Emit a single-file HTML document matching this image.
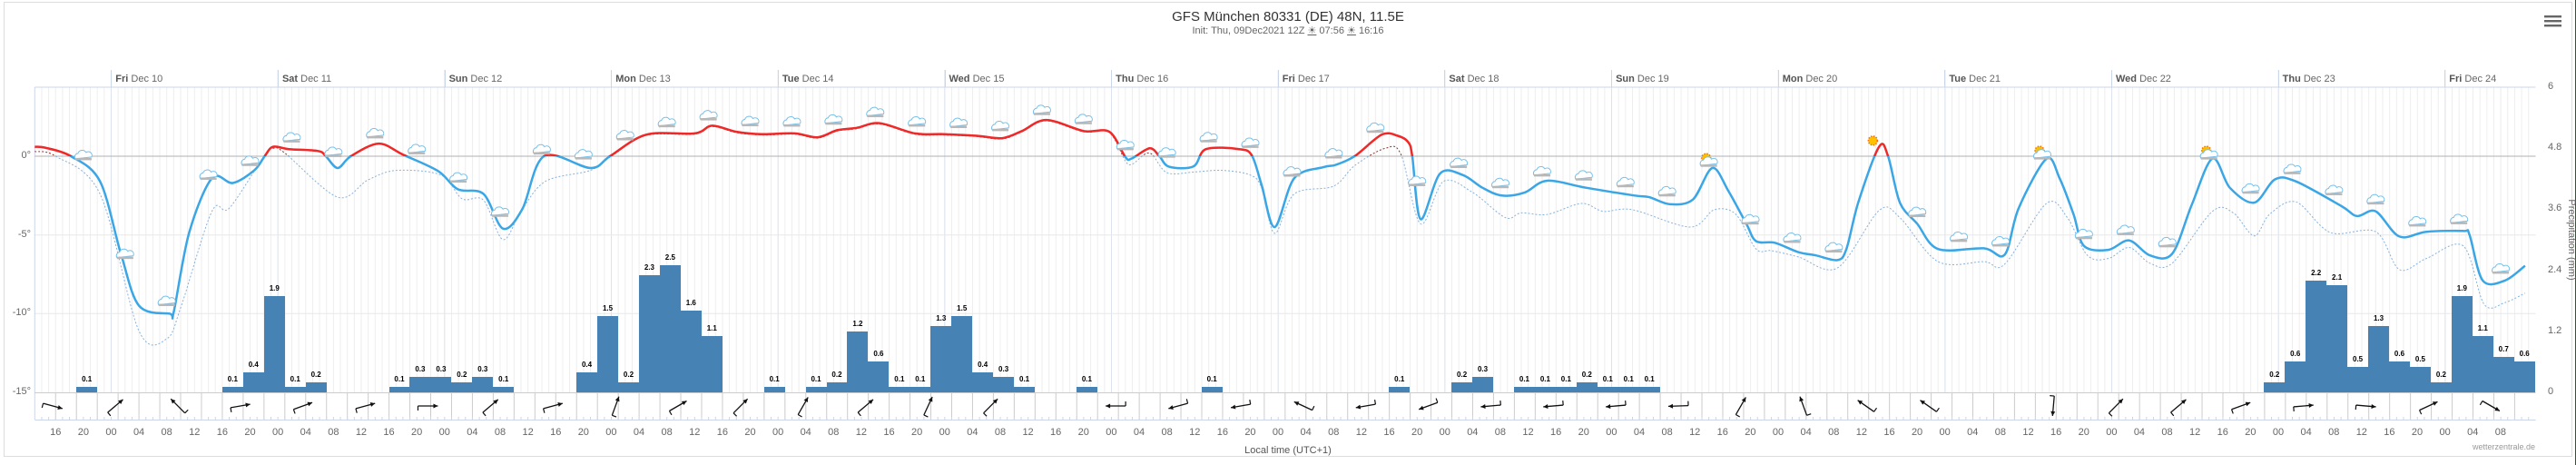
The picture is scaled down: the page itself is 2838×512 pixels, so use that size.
<!DOCTYPE html>
<html><head><meta charset="utf-8">
<style>
*{margin:0;padding:0;box-sizing:border-box}
body{width:2838px;height:512px;background:#fff;position:relative;overflow:hidden;font-family:"Liberation Sans",sans-serif;color:#666}
.abs{position:absolute}
#title{left:0;width:2838px;top:10px;text-align:center;font-size:15px;color:#333}
#sub{left:0;width:2838px;top:27px;text-align:center;font-size:11px;color:#666}
#days{left:122.3px;top:77px;height:19px;display:flex;white-space:nowrap}
#days div{width:183.65px;flex:none;border-left:1px solid #ccd6eb;font-size:11px;padding-left:4px;line-height:20px;color:#666}
#days b{color:#555}
#hours{left:45.95px;top:470px;display:flex;white-space:nowrap}
#hours span{width:30.612px;flex:none;text-align:center;font-size:11px;color:#666}
#bars{left:38.3px;top:96px;width:2755.2px;height:336px;display:flex}
#bars div{flex:1;display:flex;flex-direction:column;justify-content:flex-end;align-items:stretch}
#bars i{display:block;background:#4682b4}
#bars b{display:block;text-align:center;font-size:8px;color:#000;margin-bottom:4px;font-weight:bold}
.yl{font-size:11px;color:#666;text-align:right;width:30px;left:4px}
.yr{font-size:11px;color:#666;left:2807px}
</style></head><body>
<svg class="abs" style="left:0;top:0" width="2838" height="512" id="svg"></svg>
<div class="abs" id="title">GFS München 80331 (DE) 48N, 11.5E</div>
<div class="abs" id="sub">Init: Thu, 09Dec2021 12Z <u>☀</u> 07:56 <u>☀</u> 16:16</div>
<div class="abs" id="days"><div><b>Fri</b> Dec 10</div><div><b>Sat</b> Dec 11</div><div><b>Sun</b> Dec 12</div><div><b>Mon</b> Dec 13</div><div><b>Tue</b> Dec 14</div><div><b>Wed</b> Dec 15</div><div><b>Thu</b> Dec 16</div><div><b>Fri</b> Dec 17</div><div><b>Sat</b> Dec 18</div><div><b>Sun</b> Dec 19</div><div><b>Mon</b> Dec 20</div><div><b>Tue</b> Dec 21</div><div><b>Wed</b> Dec 22</div><div><b>Thu</b> Dec 23</div><div style="width:100px"><b>Fri</b> Dec 24</div></div>
<div class="abs" id="bars">
<div></div><div></div><div><b>0.1</b><i style="height:5.6px"></i></div><div></div><div></div><div></div><div></div><div></div><div></div>
<div><b>0.1</b><i style="height:5.6px"></i></div><div><b>0.4</b><i style="height:22.4px"></i></div><div><b>1.9</b><i style="height:106.4px"></i></div><div><b>0.1</b><i style="height:5.6px"></i></div><div><b>0.2</b><i style="height:11.2px"></i></div>
<div></div><div></div><div></div>
<div><b>0.1</b><i style="height:5.6px"></i></div><div><b>0.3</b><i style="height:16.8px"></i></div><div><b>0.3</b><i style="height:16.8px"></i></div><div><b>0.2</b><i style="height:11.2px"></i></div><div><b>0.3</b><i style="height:16.8px"></i></div><div><b>0.1</b><i style="height:5.6px"></i></div>
<div></div><div></div><div></div>
<div><b>0.4</b><i style="height:22.4px"></i></div><div><b>1.5</b><i style="height:84px"></i></div><div><b>0.2</b><i style="height:11.2px"></i></div><div><b>2.3</b><i style="height:128.8px"></i></div><div><b>2.5</b><i style="height:140px"></i></div><div><b>1.6</b><i style="height:89.6px"></i></div><div><b>1.1</b><i style="height:61.6px"></i></div>
<div></div><div></div>
<div><b>0.1</b><i style="height:5.6px"></i></div>
<div></div>
<div><b>0.1</b><i style="height:5.6px"></i></div><div><b>0.2</b><i style="height:11.2px"></i></div><div><b>1.2</b><i style="height:67.2px"></i></div><div><b>0.6</b><i style="height:33.6px"></i></div><div><b>0.1</b><i style="height:5.6px"></i></div><div><b>0.1</b><i style="height:5.6px"></i></div><div><b>1.3</b><i style="height:72.8px"></i></div><div><b>1.5</b><i style="height:84px"></i></div><div><b>0.4</b><i style="height:22.4px"></i></div><div><b>0.3</b><i style="height:16.8px"></i></div><div><b>0.1</b><i style="height:5.6px"></i></div>
<div></div><div></div>
<div><b>0.1</b><i style="height:5.6px"></i></div>
<div></div><div></div><div></div><div></div><div></div>
<div><b>0.1</b><i style="height:5.6px"></i></div>
<div></div><div></div><div></div><div></div><div></div><div></div><div></div><div></div>
<div><b>0.1</b><i style="height:5.6px"></i></div>
<div></div><div></div>
<div><b>0.2</b><i style="height:11.2px"></i></div><div><b>0.3</b><i style="height:16.8px"></i></div>
<div></div>
<div><b>0.1</b><i style="height:5.6px"></i></div><div><b>0.1</b><i style="height:5.6px"></i></div><div><b>0.1</b><i style="height:5.6px"></i></div><div><b>0.2</b><i style="height:11.2px"></i></div><div><b>0.1</b><i style="height:5.6px"></i></div><div><b>0.1</b><i style="height:5.6px"></i></div><div><b>0.1</b><i style="height:5.6px"></i></div>
<div></div><div></div><div></div><div></div><div></div><div></div><div></div><div></div><div></div><div></div>
<div></div><div></div><div></div><div></div><div></div><div></div><div></div><div></div><div></div><div></div>
<div></div><div></div><div></div><div></div><div></div><div></div><div></div><div></div><div></div>
<div><b>0.2</b><i style="height:11.2px"></i></div><div><b>0.6</b><i style="height:33.6px"></i></div><div><b>2.2</b><i style="height:123.2px"></i></div><div><b>2.1</b><i style="height:117.6px"></i></div><div><b>0.5</b><i style="height:28px"></i></div><div><b>1.3</b><i style="height:72.8px"></i></div><div><b>0.6</b><i style="height:33.6px"></i></div><div><b>0.5</b><i style="height:28px"></i></div><div><b>0.2</b><i style="height:11.2px"></i></div><div><b>1.9</b><i style="height:106.4px"></i></div><div><b>1.1</b><i style="height:61.6px"></i></div><div><b>0.7</b><i style="height:39.2px"></i></div><div><b>0.6</b><i style="height:33.6px"></i></div>
</div>
<div class="abs" id="hours"><span>16</span><span>20</span><span>00</span><span>04</span><span>08</span><span>12</span><span>16</span><span>20</span><span>00</span><span>04</span><span>08</span><span>12</span><span>16</span><span>20</span><span>00</span><span>04</span><span>08</span><span>12</span><span>16</span><span>20</span><span>00</span><span>04</span><span>08</span><span>12</span><span>16</span><span>20</span><span>00</span><span>04</span><span>08</span><span>12</span><span>16</span><span>20</span><span>00</span><span>04</span><span>08</span><span>12</span><span>16</span><span>20</span><span>00</span><span>04</span><span>08</span><span>12</span><span>16</span><span>20</span><span>00</span><span>04</span><span>08</span><span>12</span><span>16</span><span>20</span><span>00</span><span>04</span><span>08</span><span>12</span><span>16</span><span>20</span><span>00</span><span>04</span><span>08</span><span>12</span><span>16</span><span>20</span><span>00</span><span>04</span><span>08</span><span>12</span><span>16</span><span>20</span><span>00</span><span>04</span><span>08</span><span>12</span><span>16</span><span>20</span><span>00</span><span>04</span><span>08</span><span>12</span><span>16</span><span>20</span><span>00</span><span>04</span><span>08</span><span>12</span><span>16</span><span>20</span><span>00</span><span>04</span><span>08</span></div>
<div class="abs yl" style="top:165px">0°</div>
<div class="abs yl" style="top:252px">-5°</div>
<div class="abs yl" style="top:338px">-10°</div>
<div class="abs yl" style="top:425px">-15°</div>
<div class="abs yr" style="top:89px">6</div>
<div class="abs yr" style="top:156px">4.8</div>
<div class="abs yr" style="top:223px">3.6</div>
<div class="abs yr" style="top:291px">2.4</div>
<div class="abs yr" style="top:358px">1.2</div>
<div class="abs yr" style="top:425px">0</div>
<div class="abs" style="left:2778px;top:258px;width:110px;text-align:center;font-size:11px;color:#666;transform:rotate(90deg)">Precipitation (mm)</div>
<div class="abs" style="left:0;width:2838px;top:490px;text-align:center;font-size:11px;color:#555">Local time (UTC+1)</div>
<div class="abs" style="left:2693px;width:100px;top:487px;text-align:right;font-size:9px;color:#999">wetterzentrale.de</div>
<script>
var S=document.getElementById('svg'),NS='http://www.w3.org/2000/svg';
function X(h){return 38.3+7.653*h}function Y(t){return 172-17.33*t}
function el(n,a,p){var e=document.createElementNS(NS,n);for(var k in a)e.setAttribute(k,a[k]);(p||S).appendChild(e);return e}
el('rect',{x:4.5,y:2.5,width:2829,height:500,fill:'none',stroke:'#ddd'});
el('line',{x1:2837.5,y1:0,x2:2837.5,y2:512,stroke:'#2a5a2a'});
for(var i=0;i<3;i++)el('rect',{x:2803,y:17+i*5,width:19,height:2.4,fill:'#666'});
var d='';for(var h=1;h<360;h++){d+='M'+X(h).toFixed(2)+' 96V432'}
el('path',{d:d,stroke:'#eeeeee','stroke-width':1,fill:'none'});
d='';for(var k=0;k<15;k++){d+='M'+X(11+24*k).toFixed(2)+' 77V432'}
el('path',{d:d,stroke:'#dde3ee','stroke-width':1,fill:'none'});
el('path',{d:'M38.3 258.7H2793.5M38.3 345.3H2793.5',stroke:'#e8e8e8'});
el('path',{d:'M38.3 96H2793.5M38.3 96V462',stroke:'#ccd6eb'});
el('path',{d:'M38.3 172H2793.5',stroke:'#b0b0b0'});
el('path',{d:'M38.3 432.5H2793.5',stroke:'#ccc'});
d='';for(var h=3;h<360;h+=3){d+='M'+X(h).toFixed(2)+' 432V462'}
el('path',{d:d,stroke:'#ccc'});
el('path',{d:'M38.3 462.5H2793.5',stroke:'#ccd6eb'});
d='';for(var h=1;h<360;h++){d+='M'+X(h).toFixed(2)+' 462.5V459'}
el('path',{d:d,stroke:'#ccd6eb'});
var main=[[0,0.6],[1.5,0.54],[5.2,0],[9.4,-1.6],[12.4,-6.2],[15,-9.5],[19.4,-10],[20,-9.9],[22.2,-4.9],[25.5,-1.4],[28.5,-1.7],[31.6,-0.9],[33.1,0],[34.3,0.6],[36.6,0.45],[40.8,0.33],[41.9,0],[43.6,-0.75],[45.5,0],[49.5,0.8],[53,0.1],[58.1,-0.95],[60.9,-2.1],[64.6,-2.4],[67.4,-4.6],[70.2,-3.35],[73.3,0],[80,-0.75],[82.8,0],[88,1.37],[95,1.45],[97.5,1.94],[101,1.55],[104.7,1.4],[109.4,1.45],[112.7,1.2],[115.5,1.65],[118.3,1.8],[121.6,2.1],[126.7,1.45],[130.9,1.4],[135.6,1.3],[139.3,1.15],[142.1,1.6],[145.6,2.3],[151,1.6],[154.7,1.55],[157,-0.05],[157.9,-0.15],[160.5,0.5],[161.9,0],[163.3,-0.67],[166.8,-0.65],[168.6,0.45],[173.4,0.45],[175.2,0.05],[176.6,-1.8],[178.5,-4.5],[181.3,-1.4],[185.5,-0.7],[187.3,-0.55],[190,0],[193.9,1.37],[196.2,1.3],[197.7,0.9],[198.3,0],[199.5,-4.0],[202.3,-1.1],[205.6,-1.2],[208.4,-2.0],[211.2,-2.5],[214.5,-2.3],[217.7,-1.56],[223.3,-2.0],[230.3,-2.5],[232.4,-2.6],[235.4,-3.05],[238.7,-2.75],[241.5,-0.75],[243.8,-2.2],[246.4,-4.3],[247.8,-5.4],[250.5,-5.5],[253.9,-6.1],[256.4,-6.3],[259.5,-6.6],[260.8,-5.9],[262.5,-2.95],[265.5,0.6],[266.8,0],[268.5,-2.95],[271,-4.3],[274,-5.9],[280.6,-5.85],[283.6,-6.25],[285.6,-3.3],[289.6,-0.17],[291.5,-1.4],[293.5,-3.7],[295,-5.7],[298.5,-5.95],[301.5,-5.35],[304.5,-6.3],[307.7,-6.2],[310.5,-3.1],[313.5,-0.15],[316,-2.0],[319.5,-2.95],[322.5,-1.47],[325.5,-1.6],[332,-3.15],[334.3,-3.8],[337,-3.5],[340.4,-5.1],[344.3,-4.8],[349.6,-4.75],[350.5,-5.0],[352.4,-7.9],[355.6,-7.9],[358.5,-6.96]];
var dash=[[0,0.3],[3,0],[9.4,-2.4],[15,-11.1],[19,-11.6],[21.1,-9.5],[25.5,-3.5],[28,-3.3],[33,0],[34.3,0.5],[36,0.2],[43.6,-2.6],[48,-1.5],[52.1,-0.9],[58.5,-1.2],[61.5,-2.7],[64.6,-2.8],[67.4,-5.3],[70,-3.5],[73.5,-1.6],[80,-0.9],[83,0]];
main.forEach(function(p){if(p[0]>=88&&p[0]<=154.7)dash.push([p[0],p[1]-0.05])});
dash=dash.concat([[157,-0.3],[158,-0.5],[160.5,0.2],[163,-1.05],[167,-1.0],[171,-0.9],[175,-1.2],[176.6,-2.0],[178.5,-4.9],[181.3,-2.4],[187,-1.9],[190,-0.6],[194.4,0.5],[196.7,0.1],[199.5,-4.3],[202.8,-1.6],[207,-2.3],[211.7,-3.9],[214,-3.6],[217.7,-3.7],[222.7,-3.0],[225.8,-3.5],[230,-3.4],[238.3,-4.5],[241.8,-3.4],[244.9,-3.7],[247.8,-5.9],[250,-6.0],[253.9,-6.4],[259.5,-7.1],[265.5,-3.45],[268.5,-3.9],[274,-6.7],[280.6,-6.7],[283.6,-6.85],[289.6,-3.0],[292.6,-3.9],[295.5,-6.3],[298.5,-6.5],[301.5,-5.8],[304.5,-6.8],[307.7,-6.8],[313.5,-3.5],[316.5,-3.6],[319.5,-5.06],[321.7,-3.7],[325.5,-2.9],[330.5,-4.85],[337,-4.8],[340.4,-7.2],[344.3,-6.5],[349.6,-5.7],[352.6,-9.4],[355.6,-9.3],[358.5,-8.7]]);
function path(a){var p=a.map(function(q){return[X(q[0]),Y(q[1])]});var s='M'+p[0][0].toFixed(1)+' '+p[0][1].toFixed(1);
for(var i=0;i<p.length-1;i++){var p0=p[i-1]||p[i],p1=p[i],p2=p[i+1],p3=p[i+2]||p2,t=0.16;
var c1=[p1[0]+(p2[0]-p0[0])*t,p1[1]+(p2[1]-p0[1])*t],c2=[p2[0]-(p3[0]-p1[0])*t,p2[1]-(p3[1]-p1[1])*t];
s+='C'+c1[0].toFixed(1)+' '+c1[1].toFixed(1)+' '+c2[0].toFixed(1)+' '+c2[1].toFixed(1)+' '+p2[0].toFixed(1)+' '+p2[1].toFixed(1)}return s}
var defs=el('defs',{});
var c1=el('clipPath',{id:'above'},defs);el('rect',{x:0,y:0,width:2838,height:172},c1);
var c2=el('clipPath',{id:'below'},defs);el('rect',{x:0,y:172,width:2838,height:340},c2);
var pd=path(dash),pm=path(main);
el('path',{d:pd,fill:'none',stroke:'#86b2dd','stroke-width':1,'stroke-dasharray':'2,2','clip-path':'url(#below)'});
el('path',{d:pd,fill:'none',stroke:'#8a3030','stroke-width':1,'stroke-dasharray':'2,2','clip-path':'url(#above)'});
el('path',{d:pm,fill:'none',stroke:'#3aa6e6','stroke-width':2.5,'clip-path':'url(#below)'});
el('path',{d:pm,fill:'none',stroke:'#f02828','stroke-width':2.5,'clip-path':'url(#above)'});
function tAt(h){for(var i=0;i<main.length-1;i++){if(main[i+1][0]>=h){var a=main[i],b=main[i+1];return a[1]+(b[1]-a[1])*(h-a[0])/(b[0]-a[0])}}return main[main.length-1][1]}
for(var k=0;k<59;k++){var h=7+6*k;var cx=X(h),cy=Y(tAt(h))-13;
 if(k==43||k==47||k==51||k==39){el('circle',{cx:cx-3,cy:cy-4,r:5,fill:'#ffc000',stroke:'#ff6a00','stroke-width':1.5,'stroke-dasharray':'1.5,1.5'});if(k==43)continue;}
 el('path',{d:'M'+(cx-9)+' '+(cy+4)+'a4 4 0 0 1 3-6a5 5 0 0 1 9-1a4 4 0 0 1 6 5z',fill:'#fff',stroke:'#76c0ea','stroke-width':1});
 el('rect',{x:cx-9,y:cy+3,width:18,height:2.5,fill:'#b8b8b8'});
}
var ang=[-15,40,135,10,20,15,0,40,15,70,30,45,60,40,65,45,null,180,195,190,155,190,200,185,185,185,182,60,110,145,145,null,265,45,40,20,5,-5,25,-30];
ang.forEach(function(a,k){if(a===null)return;var h=2.6+9*k,cx=X(h),cy=447,r=a*Math.PI/180,L=11;
 var dx=Math.cos(r)*L,dy=-Math.sin(r)*L;var hx=cx+dx,hy=cy+dy,tx=cx-dx,ty=cy-dy;
 el('line',{x1:tx,y1:ty,x2:hx,y2:hy,stroke:'#111','stroke-width':1.3});
 var ux=dx/L,uy=dy/L;el('path',{d:'M'+hx+' '+hy+'L'+(hx-ux*5-uy*2.5)+' '+(hy-uy*5+ux*2.5)+'L'+(hx-ux*5+uy*2.5)+' '+(hy-uy*5-ux*2.5)+'z',fill:'#111'});
 el('line',{x1:tx,y1:ty,x2:tx-uy*5,y2:ty+ux*5,stroke:'#111','stroke-width':1.2});
});
</script>
</body></html>
